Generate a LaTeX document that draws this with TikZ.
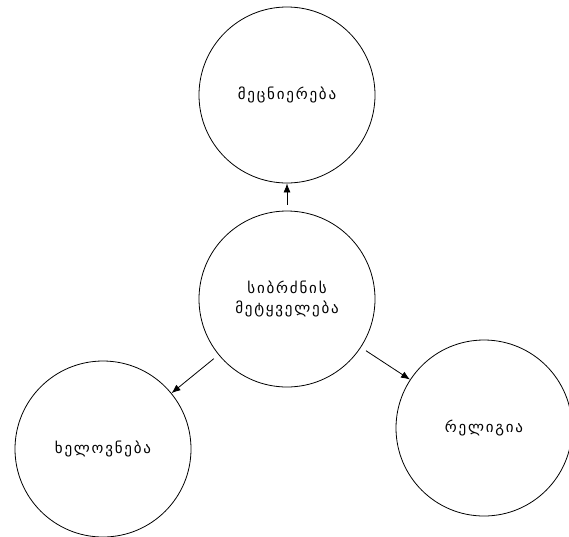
\documentclass[tikz,border=0pt]{standalone}
\usepackage{fontspec}
\newfontfamily\geofont[LetterSpace=12]{DejaVu Sans}
\usetikzlibrary{arrows.meta,positioning}
\begin{document}
\begin{tikzpicture}
  [x=1pt,y=-1pt,
   every node/.style={circle,draw,line width=0.8pt,minimum size=176pt,inner sep=0pt,
     font=\geofont\fontsize{15}{20}\selectfont,align=center},
   link/.style={-{Latex[length=9pt,width=7pt]},line width=0.8pt,shorten <=6pt}]
  \useasboundingbox (0,0) rectangle (569,536);
  \node (n0) at (287,299) {სიბრძნის\\მეტყველება};
  \node (n1) at (287,95) {მეცნიერება};
  \node (n2) at (103,449) {ხელოვნება};
  \node (n3) at (484,428) {რელიგია};
  \foreach \to in {n1,n2,n3}
    \draw[link] (n0) -- (\to);
\end{tikzpicture}
\end{document}
